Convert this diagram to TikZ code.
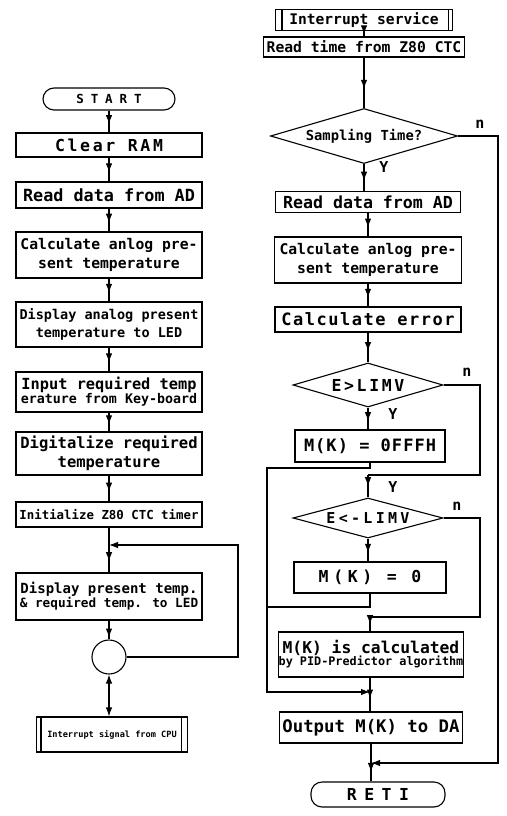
\documentclass[tikz,border=0pt]{standalone}
\usepackage{fontspec}
\newfontfamily\dmono{DejaVu Sans Mono}
\usetikzlibrary{arrows.meta,decorations.markings,shapes.geometric}
\newcommand\fz[2]{\fontsize{#1}{#2}\selectfont}
\newcommand\lsp[2]{{\addfontfeature{LetterSpace=#1}#2}}
\tikzset{
  box/.style={draw, line width=1.1pt, inner sep=0pt, align=center, font=\dmono\bfseries},
  fs/.style 2 args={font=\dmono\bfseries\fz{#1}{#2}},
  term/.style={box, rounded corners=11pt},
  dia/.style={box, diamond, inner sep=0pt},
  flow/.style={line width=1.1pt},
  tip/.style={-{Latex[length=9pt,width=6.5pt]}},
  marr/.style={flow, postaction={decorate}, decoration={markings, mark=at position #1 with {\arrow{Latex[length=9pt,width=6.5pt]}}}},
  marr/.default=0.62,
  lab/.style={inner sep=0pt, font=\dmono\bfseries\fz{15}{15}}
}
\begin{document}
\begin{tikzpicture}[x=1pt,y=-1pt]
\useasboundingbox (0,0) rectangle (506,816);
% ---------- left column ----------
\node[term, fs={12.5}{14}, minimum width=132, minimum height=22] (start) at (109,99) {\lsp{55}{START}};
\node[box, fs={16.5}{18}, minimum width=186, minimum height=24] (clear) at (109,145) {\lsp{16}{Clear RAM}};
\node[box, fs={16.8}{18}, minimum width=186, minimum height=26] (read) at (109,195) {Read data from AD};
\node[box, fs={14.7}{19}, minimum width=186, minimum height=46] (calc) at (109,255) {Calculate anlog pre-\\sent temperature};
\node[box, fs={13.5}{18}, minimum width=186, minimum height=45] (disp) at (109,324.5) {Display analog present\\temperature to LED};
\node[box, minimum width=186, minimum height=40] (input) at (109,392) {{\fz{15.3}{17}Input required temp}\\{\fz{13.3}{17}erature from Key-board}};
\node[box, fs={15.5}{19}, minimum width=186, minimum height=43] (digit) at (109,453.5) {Digitalize required\\temperature};
\node[box, fs={12.4}{14}, minimum width=186, minimum height=25] (init) at (109,514.5) {Initialize Z80 CTC timer};
\node[box, minimum width=186, minimum height=47] (dpt) at (109,596.5) {{\fz{14}{19}Display present temp.}\\{\fz{12.7}{19}\& required temp. to LED}};
\node[draw, line width=1.1pt, circle, minimum size=34, inner sep=0pt] (circ) at (109,657) {};
\node[box, fs={8.6}{10}, minimum width=151, minimum height=35] (intr) at (112,734.5) {Interrupt signal from CPU};
\draw[line width=1.1pt] ([xshift=5pt]intr.north west) -- ([xshift=5pt]intr.south west);
\draw[line width=1.1pt] ([xshift=-7pt]intr.north east) -- ([xshift=-7pt]intr.south east);

\draw[marr] (start) -- (clear);
\draw[marr] (clear) -- (read);
\draw[marr] (read) -- (calc);
\draw[marr] (calc) -- (disp);
\draw[marr] (disp) -- (input);
\draw[marr] (input) -- (digit);
\draw[marr] (digit) -- (init);
\draw[marr=0.75] (init) -- (dpt);
\coordinate (j1) at (109,545);
\coordinate (lr) at (238,657);
\draw[flow, tip] (circ.east) -- (lr) -- (lr |- j1) -- (j1);
\draw[marr=0.9] (dpt) -- (circ);
\draw[flow, {Latex[length=9pt,width=6.5pt]}-{Latex[length=9pt,width=6.5pt]}] (circ.south) -- (circ.south |- intr.north);

% ---------- right column ----------
\node[box, fs={14.6}{16}, minimum width=177, minimum height=21] (isvc) at (364,20) {Interrupt service};
\draw[line width=1.1pt] ([xshift=7pt]isvc.north west) -- ([xshift=7pt]isvc.south west);
\draw[line width=1.1pt] ([xshift=-5pt]isvc.north east) -- ([xshift=-5pt]isvc.south east);
\node[box, fs={14.7}{16}, minimum width=201, minimum height=20] (rtime) at (364,47) {Read time from Z80 CTC};
\node[dia, fs={13.8}{15}, minimum width=187, minimum height=55, aspect=3.4] (samp) at (364,136) {Sampling Time?};
\node[box, fs={16.6}{18}, minimum width=185, minimum height=21] (rdata) at (368,202) {Read data from AD};
\node[box, fs={14.7}{19}, minimum width=187, minimum height=46] (calc2) at (368,260) {Calculate anlog pre-\\sent temperature};
\node[box, fs={17}{18}, minimum width=186, minimum height=25] (err) at (368,319.5) {\lsp{9}{Calculate error}};
\node[dia, fs={16.5}{17}, minimum width=150, minimum height=44, aspect=3.4] (d1) at (368,385) {\lsp{16}{E>LIMV}};
\node[box, fs={17}{18}, minimum width=150, minimum height=32] (mk1) at (370,446) {\lsp{6}{M(K) = 0FFFH}};
\node[dia, fs={15}{16}, minimum width=150, minimum height=40, aspect=3.75] (d2) at (368,518) {\lsp{22}{E<-LIMV}};
\node[box, fs={16.5}{18}, minimum width=152, minimum height=31] (mk0) at (370,577.5) {\lsp{28}{M(K) = 0}};
\node[box, minimum width=183, minimum height=45] (pid) at (371,654.5) {{\fz{16.3}{19}M(K) is calculated}\\{\fz{11.8}{19}by PID-Predictor algorithm}};
\node[box, fs={17.3}{18}, minimum width=183, minimum height=31] (out) at (371,727.5) {Output M(K) to DA};
\node[term, fs={16.5}{18}, minimum width=134, minimum height=25] (reti) at (378,794.5) {\lsp{45}{RETI}};

\draw[marr] (isvc.south -| rtime) -- (rtime);
\draw[marr] (rtime) -- (samp);
\draw[marr] (samp.south) -- (samp.south |- rdata.north);
\node[lab] (ly0) at (384,167) {Y};
\coordinate (j4) at (371,763);
\draw[flow, tip] (samp.east) -- (498,136) -- (498,763) -- (j4);
\node[lab] (ln0) at (480,124) {n};
\draw[marr] (rdata.south -| calc2) -- (calc2);
\draw[marr] (calc2) -- (err);
\draw[marr] (err) -- (d1);
\draw[marr] (d1.south) -- (d1.south |- mk1.north);
\node[lab] (ly1) at (393,414) {Y};
\coordinate (j2) at (368,475);
\draw[flow] (d1.east) -- (480,385) -- (480,475) -- (j2);
\draw[marr=0.5] (j2) -- (d2.north);
\node[lab] (ln1) at (467,372) {n};
\node[lab] (ly2) at (393,487) {Y};
\coordinate (j3) at (370,692);
\draw[flow, tip] (mk1.south) -- (370,468) -- (267,468) -- (267,692) -- (j3);
\draw[marr] (d2.south) -- (d2.south |- mk0.north);
\node[lab] (ln2) at (457,506) {n};
\draw[flow] (mk0.south) -- (370,607) -- (267,607);
\coordinate (j5) at (370,617);
\draw[flow] (d2.east) -- (480,518) -- (480,617) -- (j5);
\draw[marr=0.5] (j5) -- (j5 |- pid.north);
\draw[marr] (pid.south -| j3) -- (j3 |- out.north);
\draw[marr=0.75] (out.south -| j4) -- (j4 |- reti.north);
\end{tikzpicture}
\end{document}
